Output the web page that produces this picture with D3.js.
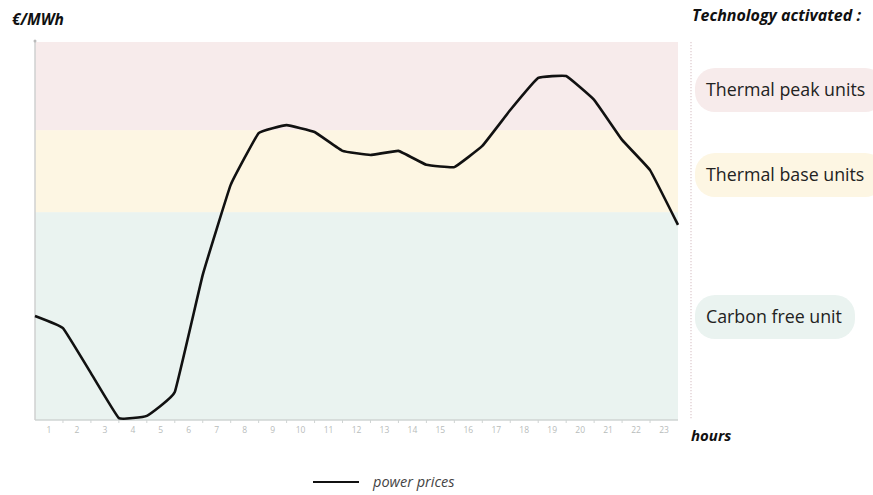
<!DOCTYPE html>
<html>
<head>
<meta charset="utf-8">
<script src="https://cdn.jsdelivr.net/npm/d3@7"></script>
<style>
  body { margin: 0; background: #fff; }
  svg { display: block; font-family: "Open Sans", "Noto Sans", sans-serif; }
</style>
</head>
<body>
<div id="chart"></div>
<script>
// hourly prices, one point per hour boundary (0..23), arbitrary scale 0-100
var hours = d3.range(1, 24);
var priceIndex = d3.range(0, 24);
var prices = [27.5, 24.3, 12.4, 0.5, 1.1, 7.4, 38.4, 62.2, 75.9, 78.0, 76.2, 71.2,
              70.1, 71.2, 67.5, 66.9, 72.5, 82.0, 90.5, 91.0, 84.7, 74.1, 66.1, 51.6];

// technology zones (price bands)
var zoneNames = ["Carbon free unit", "Thermal base units", "Thermal peak units"];
var zoneLow = [0, 55, 76.7];
var zoneHigh = [55, 76.7, 100];
var zoneColors = ["#eaf3f0", "#fdf6e3", "#f7ebeb"];

var width = 873, height = 495;
var margin = {top: 42, right: 195, bottom: 75, left: 35};
var plotW = width - margin.left - margin.right;
var plotH = height - margin.top - margin.bottom;

var svg = d3.select("#chart").append("svg")
  .attr("width", width).attr("height", height);

var g = svg.append("g").attr("transform", "translate(" + margin.left + "," + margin.top + ")");

var xBand = d3.scaleBand().domain(hours).range([0, plotW]);
var x = d3.scaleLinear().domain([0, 23]).range([0, plotW]);
var y = d3.scaleLinear().domain([0, 100]).range([plotH, 0]);

// background zones
g.selectAll("rect.zone").data(zoneNames).enter().append("rect")
  .attr("class", "zone")
  .attr("x", 0)
  .attr("width", plotW)
  .attr("y", function(d, i) { return y(zoneHigh[i]); })
  .attr("height", function(d, i) { return y(zoneLow[i]) - y(zoneHigh[i]); })
  .attr("fill", function(d, i) { return zoneColors[i]; });

// x axis
var xAxis = g.append("g").attr("transform", "translate(0," + plotH + ")");
xAxis.append("line").attr("x1", 0).attr("x2", plotW).attr("stroke", "#cfd4d3").attr("stroke-width", 1.5);
xAxis.selectAll("line.tick").data(d3.range(1, 23)).enter().append("line")
  .attr("class", "tick")
  .attr("x1", function(d) { return x(d); }).attr("x2", function(d) { return x(d); })
  .attr("y1", 0).attr("y2", 3)
  .attr("stroke", "#cfd4d3");
xAxis.selectAll("text").data(hours).enter().append("text")
  .attr("x", function(d) { return xBand(d) + xBand.bandwidth() / 2; })
  .attr("y", 13)
  .attr("text-anchor", "middle")
  .attr("font-size", 8.5)
  .attr("fill", "#b8bcbb")
  .text(function(d) { return d; });

// y axis
g.append("line").attr("x1", 0).attr("x2", 0).attr("y1", -2).attr("y2", plotH)
  .attr("stroke", "#cfd0d0").attr("stroke-width", 1.5);
g.append("circle").attr("cx", 0).attr("cy", -1).attr("r", 1.5).attr("fill", "#bbb");

// price line
var line = d3.line()
  .x(function(d, i) { return x(priceIndex[i]); })
  .y(function(d) { return y(d); })
  .curve(d3.curveCardinal.tension(0.75));

g.append("path").datum(prices)
  .attr("d", line)
  .attr("fill", "none")
  .attr("stroke", "#111")
  .attr("stroke-width", 2.6)
  .attr("stroke-linejoin", "round");

// divider
svg.append("line").attr("x1", 691).attr("x2", 691).attr("y1", 42).attr("y2", 420)
  .attr("stroke", "#dcc9cc").attr("stroke-width", 1.2).attr("stroke-dasharray", "1.2,1.8");

// zone legend pills
var pillY = [295, 153, 68];
var pillW = [160, 190, 190];
var pills = svg.selectAll("g.pill").data(zoneNames).enter().append("g").attr("class", "pill");
pills.append("rect")
  .attr("x", 695)
  .attr("y", function(d, i) { return pillY[i]; })
  .attr("width", function(d, i) { return pillW[i]; })
  .attr("height", 44)
  .attr("rx", 20)
  .attr("fill", function(d, i) { return zoneColors[i]; });
pills.append("text")
  .attr("x", 706)
  .attr("y", function(d, i) { return pillY[i] + 22; })
  .attr("dy", "0.35em")
  .attr("font-size", 17.8)
  .attr("fill", "#222")
  .text(function(d) { return d; });

// titles
svg.append("text").attr("x", 12).attr("y", 25)
  .attr("font-size", 15.5).attr("font-weight", "bold").attr("font-style", "italic")
  .attr("fill", "#111").text("€/MWh");
svg.append("text").attr("x", 692).attr("y", 21)
  .attr("font-size", 16).attr("font-weight", "bold").attr("font-style", "italic")
  .attr("fill", "#111").text("Technology activated :");
svg.append("text").attr("x", 691).attr("y", 441)
  .attr("font-size", 15).attr("font-weight", "bold").attr("font-style", "italic")
  .attr("fill", "#111").text("hours");

// series legend
svg.append("line").attr("x1", 313).attr("x2", 359).attr("y1", 482).attr("y2", 482)
  .attr("stroke", "#111").attr("stroke-width", 2);
svg.append("text").attr("x", 373).attr("y", 487)
  .attr("font-size", 14.5).attr("font-style", "italic").attr("fill", "#444")
  .text("power prices");
</script>
</body>
</html>
